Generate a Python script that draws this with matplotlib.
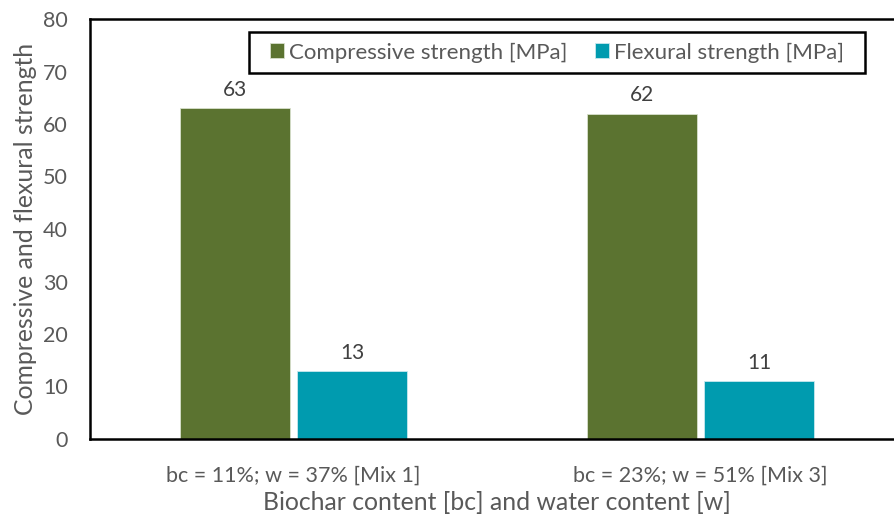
import matplotlib
matplotlib.use("Agg")
import matplotlib.pyplot as plt
from matplotlib.patches import Rectangle
import numpy as np

categories = ["bc = 11%; w = 37% [Mix 1]", "bc = 23%; w = 51% [Mix 3]"]
compressive = [63, 62]
flexural = [13, 11]
series_names = ["Compressive strength [MPa]", "Flexural strength [MPa]"]
yticks = [0, 10, 20, 30, 40, 50, 60, 70, 80]

plt.rcParams['font.family'] = ['Lato', 'DejaVu Sans']

W, H = 894, 514
fig = plt.figure(figsize=(W/100, H/100), dpi=100)
ax = fig.add_axes([90/W, (H-439)/H, (904-90)/W, (439-19)/H])

green = "#5B7330"
teal = "#009BAF"
x = np.arange(len(categories))
bw = 0.27
off = 0.144
b1 = ax.bar(x - off, compressive, bw, color=green, edgecolor="#d8e0cc", linewidth=0.6, label=series_names[0], zorder=2)
b2 = ax.bar(x + off, flexural, bw, color=teal, edgecolor="#c8e8ee", linewidth=0.6, label=series_names[1], zorder=2)

for bars, vals in ((b1, compressive), (b2, flexural)):
    for r, v in zip(bars, vals):
        ax.annotate(f"{v}", (r.get_x() + r.get_width()/2, v), xytext=(0, 13),
                    textcoords="offset points", ha="center", va="center",
                    fontsize=15, color="#404040")

ax.set_xlim(-0.5, 1.5)
ax.set_ylim(0, 80)
ax.set_yticks(yticks)
ax.set_xticks(x)
ax.set_xticklabels(categories)
ax.tick_params(axis="y", length=0, labelsize=15.5, labelcolor="#595959", pad=16)
ax.tick_params(axis="x", length=0, labelsize=15.5, labelcolor="#595959", pad=19)
for s in ax.spines.values():
    s.set_color("black")
    s.set_linewidth(1.8)

ax.set_ylabel("Compressive and flexural strength", fontsize=17.8, color="#595959", labelpad=4)
ax.set_xlabel("Biochar content [bc] and water content [w]", fontsize=17.8, color="#595959", labelpad=4)

fig.patches.append(Rectangle((249/W, 1-73/H), (865-249)/W, 41/H, transform=fig.transFigure,
                             fill=False, edgecolor="black", linewidth=1.8, zorder=5))
leg = ax.legend(loc="center", bbox_to_anchor=(557/W, 1-52.5/H), bbox_transform=fig.transFigure,
                ncol=2, fontsize=16, frameon=False, borderaxespad=0, borderpad=0,
                handlelength=0.63, handleheight=0.63, handletextpad=0.23, columnspacing=1.26,
                labelcolor="#595959")

fig.savefig("out.png", dpi=100)
